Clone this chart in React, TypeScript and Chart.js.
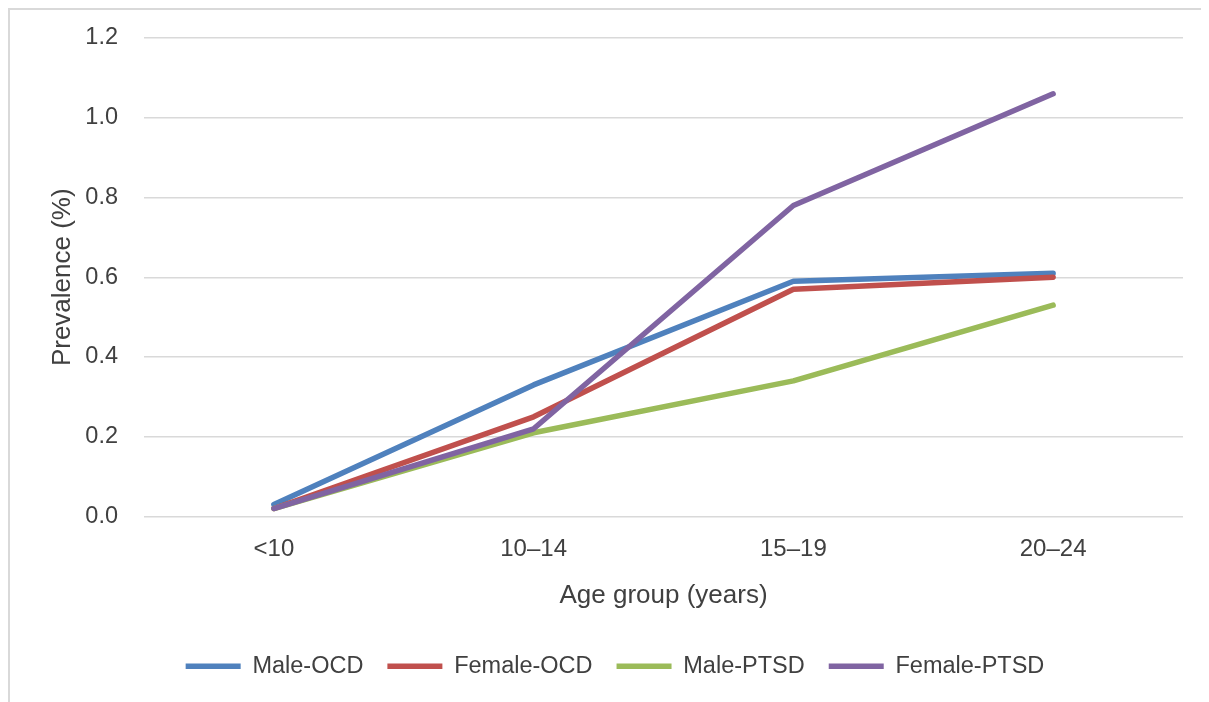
import React, { useEffect, useRef } from "react";
import { Chart, registerables } from "chart.js";

Chart.register(...registerables);

const categories = ["<10", "10–14", "15–19", "20–24"];
const maleOCD = [0.03, 0.33, 0.59, 0.61];
const femaleOCD = [0.02, 0.25, 0.57, 0.6];
const malePTSD = [0.02, 0.21, 0.34, 0.53];
const femalePTSD = [0.02, 0.22, 0.78, 1.06];
const seriesNames = ["Male-OCD", "Female-OCD", "Male-PTSD", "Female-PTSD"];
const seriesColors = ["#4F81BD", "#C0504D", "#9BBB59", "#8064A2"];
const yTicks = [0, 0.2, 0.4, 0.6, 0.8, 1.0, 1.2];

const FONT = "'Liberation Sans', Arial, sans-serif";
const TEXT = "#404040";

export default function App() {
  const ref = useRef<HTMLCanvasElement | null>(null);
  useEffect(() => {
    document.body.style.overflow = "hidden";
    const values = [maleOCD, femaleOCD, malePTSD, femalePTSD];
    const chart = new Chart(ref.current as HTMLCanvasElement, {
      type: "line",
      data: {
        labels: categories,
        datasets: values.map((v, i) => ({
          label: seriesNames[i],
          data: v,
          borderColor: seriesColors[i],
          backgroundColor: seriesColors[i],
          borderWidth: 5.5,
          borderCapStyle: "round",
          borderJoinStyle: "round",
          pointRadius: 0,
          pointHoverRadius: 0,
          tension: 0,
          fill: false,
          order: values.length - i,
        })),
      },
      options: {
        responsive: false,
        animation: false,
        layout: { padding: { top: 28, right: 26, left: 37, bottom: 14 } },
        plugins: {
          tooltip: { enabled: false },
          legend: {
            position: "bottom",
            labels: {
              usePointStyle: true,
              pointStyle: "line",
              pointStyleWidth: 55,
              color: TEXT,
              padding: 24,
              font: { family: FONT, size: 23.5 },
              sort: (a: any, b: any) => a.datasetIndex - b.datasetIndex,
            },
          },
        },
        scales: {
          x: {
            offset: true,
            grid: { display: false, drawTicks: false },
            border: { display: false },
            ticks: { color: TEXT, padding: 18, font: { family: FONT, size: 24 }, maxRotation: 0 },
            title: {
              display: true,
              text: "Age group (years)",
              color: TEXT,
              font: { family: FONT, size: 26 },
              padding: { top: 0, bottom: 19 },
            },
            afterFit: (s: any) => {
              s.height = 114;
            },
          },
          y: {
            min: 0,
            max: 1.2,
            afterBuildTicks: (s: any) => {
              s.ticks = yTicks.map((v) => ({ value: v }));
            },
            grid: {
              color: "#d9d9d9",
              lineWidth: 1.5,
              drawTicks: true,
              tickLength: 26,
              tickColor: "rgba(0,0,0,0)",
            },
            border: { display: false },
            ticks: {
              color: TEXT,
              padding: 0,
              font: { family: FONT, size: 23.5 },
              callback: (v: any) => Number(v).toFixed(1),
            },
            title: {
              display: true,
              text: "Prevalence (%)",
              color: TEXT,
              font: { family: FONT, size: 26 },
              padding: { top: 0, bottom: 0 },
            },
            afterFit: (s: any) => {
              s.width = 97;
            },
          },
        },
      },
    });
    return () => chart.destroy();
  }, []);
  return (
    <div
      style={{
        borderTop: "2px solid #d9d9d9",
        borderLeft: "2px solid #d9d9d9",
        width: 1199,
        height: 692,
        background: "#fff",
      }}
    >
      <canvas ref={ref} width={1199} height={692} style={{ display: "block" }} />
    </div>
  );
}
